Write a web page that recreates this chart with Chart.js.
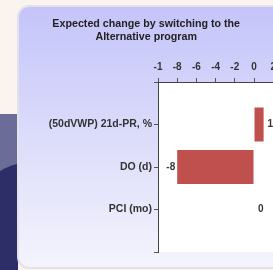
<!DOCTYPE html>
<html>
<head>
<meta charset="utf-8">
<script src="https://cdn.jsdelivr.net/npm/chart.js@4"></script>
<style>
    body { margin: 0; width: 273px; height: 270px; overflow: hidden; background: #fbf3ee; position: relative; }
    #stripe { position: absolute; left: 0; top: 114px; width: 18px; height: 156px; background: #6c6c98; overflow: hidden; }
    #stripe2 { position: absolute; left: -10px; top: 46px; width: 200px; height: 200px; background: #2d2d68; border-top-left-radius: 60px 25px; }
    #panel { position: absolute; left: 17px; top: 5px; width: 300px; height: 260px; border: 2px solid #e2e2ea; border-radius: 12px;
             background: linear-gradient(#c4c4fa, #dcdcfb 50%, #f4f4fd); }
    #chart { position: absolute; left: 0; top: 0; }
</style>
</head>
<body>
<div id="stripe"><div id="stripe2"></div></div>
<div id="panel"></div>
<canvas id="chart" width="310" height="270"></canvas>
<script>
// chart data
const categories = ['', '(50dVWP) 21d-PR, %', 'DO (d)', 'PCI (mo)', ''];
const changeValues = [null, 1, -8, 0, null];
const tickValues = [-10, -8, -6, -4, -2, 0, 2, 4];
const tickLabels = ['-1', '-8', '-6', '-4', '-2', '0', '2', '4'];
const titleLines = ['Expected change by switching to the', 'Alternative program'];

const fontName = '"Liberation Sans", Arial, sans-serif';

// white plot background
const plotBg = {
    id: 'plotBg',
    beforeDraw(chart) {
        let a = chart.chartArea;
        let ctx = chart.ctx;
        ctx.save();
        ctx.fillStyle = '#ffffff';
        ctx.fillRect(a.left, a.top, a.right - a.left, a.bottom - a.top);
        ctx.restore();
    }
};

// value labels next to the bars
const valueLabels = {
    id: 'valueLabels',
    afterDatasetsDraw(chart) {
        let ctx = chart.ctx;
        let meta = chart.getDatasetMeta(0);
        ctx.save();
        ctx.font = 'bold 10px ' + fontName;
        ctx.fillStyle = '#333333';
        ctx.textBaseline = 'middle';
        meta.data.forEach(function(bar, i) {
            let v = changeValues[i];
            if (v === null) return;
            if (v < 0) {
                ctx.textAlign = 'right';
                ctx.fillText(String(v), bar.x - 2, bar.y);
            } else {
                ctx.textAlign = 'left';
                ctx.fillText(String(v), bar.x + 4, bar.y);
            }
        });
        ctx.restore();
    }
};

let ctx = document.getElementById('chart').getContext('2d');
new Chart(ctx, {
    type: 'bar',
    data: {
        labels: categories,
        datasets: [{
            data: changeValues,
            backgroundColor: '#c0504d',
            borderWidth: 0,
            barPercentage: 1,
            categoryPercentage: 0.8
        }]
    },
    options: {
        indexAxis: 'y',
        responsive: false,
        animation: false,
        devicePixelRatio: 1,
        layout: { padding: { left: 0, right: 17.6, top: 0, bottom: 18 } },
        plugins: {
            legend: { display: false },
            tooltip: { enabled: false },
            title: {
                display: true,
                text: titleLines,
                color: '#222222',
                font: { family: fontName, size: 10.7, weight: 'bold', lineHeight: 13 / 10.7 },
                padding: { top: 18, bottom: 0 }
            }
        },
        scales: {
            x: {
                position: 'top',
                min: -10,
                max: 4,
                afterBuildTicks: function(scale) {
                    scale.ticks = tickValues.map(v => ({ value: v }));
                },
                afterFit: function(scale) { scale.height = 38; },
                grid: { drawOnChartArea: false, tickLength: 4, color: '#555555' },
                border: { display: true, color: '#444444' },
                ticks: {
                    padding: 5,
                    maxRotation: 0,
                    autoSkip: false,
                    color: '#333333',
                    font: { family: fontName, size: 10, weight: 'bold' },
                    callback: function(value) {
                        let i = tickValues.indexOf(value);
                        return i >= 0 ? tickLabels[i] : '';
                    }
                }
            },
            y: {
                offset: false,
                afterFit: function(scale) { scale.width = 158; },
                grid: { drawOnChartArea: false, tickLength: 4, color: '#555555', offset: false },
                border: { display: true, color: '#444444' },
                ticks: {
                    padding: 2,
                    autoSkip: false,
                    color: '#333333',
                    font: { family: fontName, size: 10.5, weight: 'bold' }
                }
            }
        }
    },
    plugins: [plotBg, valueLabels]
});
</script>
</body>
</html>
